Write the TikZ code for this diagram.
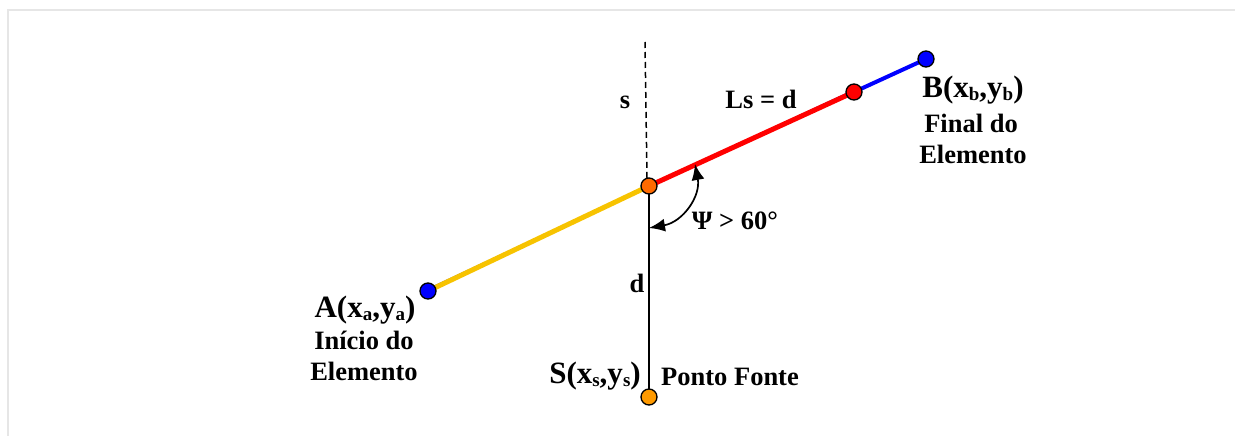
\documentclass[tikz,border=0pt]{standalone}
\usepackage{fontspec}
\setmainfont{Liberation Serif}
\usetikzlibrary{arrows.meta}
\newcommand{\lsb}[1]{\raisebox{-0.12em}{\fontsize{19}{19}\selectfont #1}}
\definecolor{gold}{HTML}{F7C300}
\definecolor{junc}{HTML}{FF6A00}
\definecolor{srcor}{HTML}{FF9A00}
\definecolor{frame}{HTML}{E6E6E6}
\tikzset{
  lbl/.style={font=\fontsize{26.5}{28}\selectfont\bfseries, anchor=base, inner sep=0pt},
  coordlbl/.style={font=\fontsize{31}{31}\selectfont\bfseries, anchor=base, inner sep=0pt},
  dot/.style={circle, draw=black, line width=1.3pt, minimum size=16pt, inner sep=0pt},
  angarrow/.style={line width=1.7pt, {Latex[length=16pt,width=13pt]}-{Latex[length=16pt,width=13pt]}},
}
\begin{document}
\begin{tikzpicture}[x=1pt,y=-1pt]
\useasboundingbox (0,0) rectangle (1235,436);
\draw[frame, line width=2pt] (8,436) -- (8,10) -- (1235,10);

\coordinate (Opt) at (649,186);
\coordinate (Apt) at (428,291);
\coordinate (Rpt) at (854,92);
\coordinate (Bpt) at (926,59);
\coordinate (Spt) at (649,397);
\coordinate (Dtop) at (645,42);
\coordinate (Dbot) at (647,178);

% dashed s line
\draw[line width=1.5pt, dash pattern=on 6pt off 4pt] (Dtop) -- (Dbot);
% vertical d line
\draw[line width=1.7pt] (Opt) -- (Spt);
% element line
\draw[blue, line width=1.2pt] ([yshift=2pt]Apt) -- ([yshift=2pt]Rpt);
\draw[gold, line width=5pt] (Apt) -- (Opt);
\draw[red, line width=5pt] (Opt) -- (Rpt);
\draw[blue, line width=4pt] (Rpt) -- (Bpt);

% angle arrow
\coordinate (arcA) at (695,164);
\coordinate (arcB) at (649,228);
\draw[angarrow] (arcA) .. controls (701,196) and (683,222) .. (arcB);

% dots
\node[dot, fill=blue] (A) at (Apt) {};
\node[dot, fill=blue] (B) at (Bpt) {};
\node[dot, fill=red] (R) at (Rpt) {};
\node[dot, fill=junc] (O) at (Opt) {};
\node[dot, fill=srcor] (S) at (Spt) {};

% labels
\node[lbl] (ls) at (625,108) {s};
\node[lbl] (lsd) at (761,109) {Ls = d};
\node[coordlbl] (lB) at (973,97) {B(x\lsb{b},y\lsb{b})};
\node[lbl] (lB1) at (971,132) {Final do};
\node[lbl] (lB2) at (973,163) {Elemento};
\node[lbl] (psi) at (735,229) {Ψ > 60°};
\node[lbl] (ld) at (637,292) {d};
\node[coordlbl] (lA) at (365,317) {A(x\lsb{a},y\lsb{a})};
\node[lbl] (lA1) at (364,349) {Início do};
\node[lbl] (lA2) at (364,380) {Elemento};
\node[coordlbl] (lS) at (595,383) {S(x\lsb{s},y\lsb{s})};
\node[lbl] (lS1) at (730,385) {Ponto Fonte};
\end{tikzpicture}
\end{document}
